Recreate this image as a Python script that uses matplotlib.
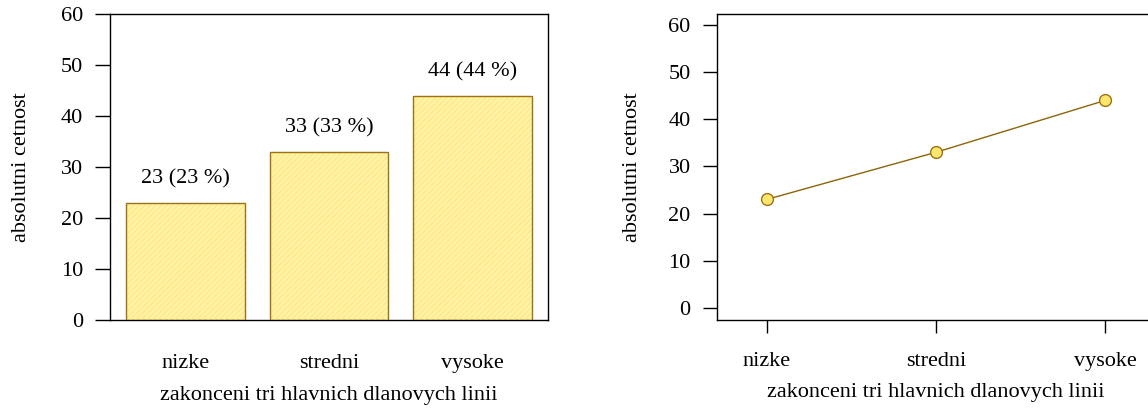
import matplotlib
matplotlib.use("Agg")
import matplotlib.pyplot as plt
import numpy as np

plt.rcParams['font.family'] = ['Liberation Serif', 'DejaVu Serif']
plt.rcParams['hatch.linewidth'] = 0.6

# data
kategorie = ["nizke", "stredni", "vysoke"]
cetnosti = [23, 33, 44]
procenta = [23, 33, 44]
yticks = [0, 10, 20, 30, 40, 50, 60]

fill_col = "#FFF3A6"
hatch_col = "#FFE27A"
edge_col = "#9C7214"
line_col = "#8B6508"
marker_col = "#FFE66E"

fig = plt.figure(figsize=(11.48, 4.08), dpi=100)
ax1 = fig.add_axes([0.0958, 0.2157, 0.3816, 0.75])
ax2 = fig.add_axes([0.6246, 0.2157, 0.3815, 0.75])

fs = 16
x = np.arange(len(kategorie))

# sloupcovy graf
ax1.bar(x, cetnosti, width=0.83, color=fill_col, edgecolor="none", zorder=2)
ax1.bar(x, cetnosti, width=0.83, color="none", edgecolor=hatch_col, hatch="//////",
        linewidth=0, zorder=3)
ax1.bar(x, cetnosti, width=0.83, color="none", edgecolor=edge_col, linewidth=1.0, zorder=4)
for xi, c, p in zip(x, cetnosti, procenta):
    ax1.text(xi, c + 4.6, f"{c} ({p} %)", ha="center", va="center", fontsize=fs)
ax1.set_xlim(-0.53, 2.53)
ax1.set_ylim(0, 60)
ax1.set_yticks(yticks)
ax1.set_xticks(x)
ax1.set_xticklabels(kategorie)
ax1.tick_params(axis="x", length=0, pad=24.5, labelsize=fs)
ax1.tick_params(axis="y", length=10.5, width=1.0, pad=9, labelsize=fs)
ax1.set_ylabel("absolutni cetnost", fontsize=fs, labelpad=21)
ax1.set_xlabel("zakonceni tri hlavnich dlanovych linii", fontsize=fs, labelpad=9)
for s in ax1.spines.values():
    s.set_linewidth(1.0)

# spojnicovy graf
ax2.plot(x, cetnosti, color=line_col, linewidth=1.0, marker="o", markersize=8.5,
         markerfacecolor=marker_col, markeredgecolor=edge_col, markeredgewidth=1.0, zorder=3)
ax2.set_xlim(-0.293, 2.293)
ax2.set_ylim(-2.54, 62.3)
ax2.set_yticks(yticks)
ax2.set_xticks(x)
ax2.set_xticklabels(kategorie)
ax2.tick_params(axis="x", length=9.5, width=1.0, pad=13.5, labelsize=fs)
ax2.tick_params(axis="y", length=10, width=1.0, pad=9, labelsize=fs)
ax2.set_ylabel("absolutni cetnost", fontsize=fs, labelpad=19)
ax2.set_xlabel("zakonceni tri hlavnich dlanovych linii", fontsize=fs, labelpad=9)
for s in ax2.spines.values():
    s.set_linewidth(1.0)

fig.savefig("out.png", dpi=100)
